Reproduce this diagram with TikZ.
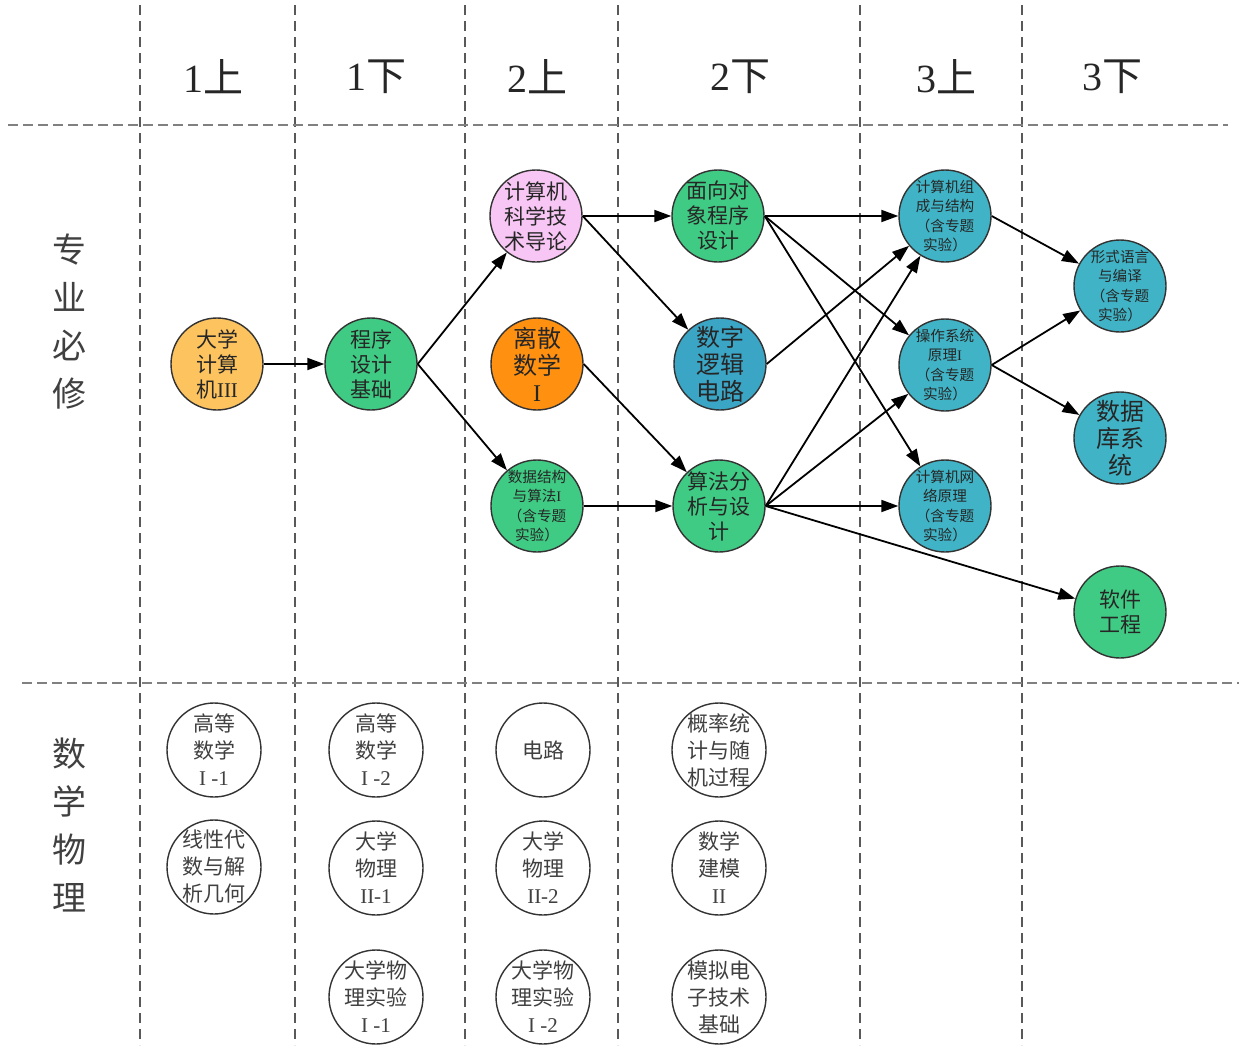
\documentclass[tikz,border=0pt]{standalone}
\usepackage{fontspec}
\setmainfont{Liberation Serif}
\newfontfamily\cjk{Noto Sans CJK SC}
\usetikzlibrary{arrows.meta}
\definecolor{cyel}{HTML}{FCC35E}
\definecolor{cgreen}{HTML}{3FCB83}
\definecolor{cpink}{HTML}{F8C6F4}
\definecolor{corange}{HTML}{FF9010}
\definecolor{cteal}{HTML}{3BA5C5}
\definecolor{cteal2}{HTML}{40B4C6}
\newcommand{\hdr}[2]{#1{\cjk #2}}
\newcommand{\rmn}[1]{{\rmfamily #1}}
\begin{document}
\begin{tikzpicture}[x=0.5pt,y=-0.5pt,
  course/.style={circle,draw=black!80,line width=0.7pt,minimum size=46pt,inner sep=-6pt,align=center,
    font=\cjk\fontsize{10.5}{12.5}\selectfont,text=black!85},
  smalltxt/.style={font=\cjk\fontsize{7.3}{9.8}\selectfont},
  bigtxt/.style={font=\cjk\fontsize{12}{13.5}\selectfont},
  mathc/.style={course,fill=white,minimum size=47pt,text=black!75,font=\cjk\fontsize{10.5}{13.5}\selectfont},
  arr/.style={-{Triangle[length=8.5pt,width=6pt]},line width=0.9pt,draw=black},
  vline/.style={dash pattern=on 5pt off 3pt,draw=black!65,line width=0.7pt},
  hline/.style={dash pattern=on 5pt off 2.5pt,draw=gray,line width=0.8pt},
  hdrtxt/.style={font=\fontsize{20}{20}\selectfont,text=black!85},
  side/.style={align=center,font=\cjk\fontsize{17}{24}\selectfont,text=black!75}]
\useasboundingbox (0,0) rectangle (1239,1050);
% grid
\foreach \x in {140,295,465,618,860,1022}
  \draw[vline] (\x,5) -- (\x,1045);
\draw[hline] (8,125) -- (1228,125);
\draw[hline] (22,683) -- (1239,683);
% headers
\node[hdrtxt] (h1) at (213,77) {\hdr{1}{上}};
\node[hdrtxt] (h2) at (376,77) {\hdr{1}{下}};
\node[hdrtxt] (h3) at (537,77) {\hdr{2}{上}};
\node[hdrtxt] (h4) at (740,77) {\hdr{2}{下}};
\node[hdrtxt] (h5) at (946,77) {\hdr{3}{上}};
\node[hdrtxt] (h6) at (1112,77) {\hdr{3}{下}};
% side labels
\node[side] (s1) at (70,322) {专\\业\\必\\修};
\node[side] (s2) at (70,825) {数\\学\\物\\理};
% major courses
\node[course,fill=cyel] (dj) at (217,364) {大学\\计算\\机\rmn{III}};
\node[course,fill=cgreen] (cx) at (371,364) {程序\\设计\\基础};
\node[course,fill=cpink] (intro) at (536,216) {计算机\\科学技\\术导论};
\node[course,fill=corange,bigtxt] (disc) at (537,364) {离散\\数学\\\rmn{I}};
\node[course,fill=cgreen,smalltxt] (ds) at (537,506) {数据结构\\与算法\rmn{I}\\（含专题\\实验）};
\node[course,fill=cgreen] (oop) at (718,216) {面向对\\象程序\\设计};
\node[course,fill=cteal,bigtxt] (logic) at (720,364) {数字\\逻辑\\电路};
\node[course,fill=cgreen] (algo) at (719,506) {算法分\\析与设\\计};
\node[course,fill=cteal2,smalltxt] (org) at (945,216) {计算机组\\成与结构\\（含专题\\实验）};
\node[course,fill=cteal2,smalltxt] (os) at (945,365) {操作系统\\原理\rmn{I}\\（含专题\\实验）};
\node[course,fill=cteal2,smalltxt] (net) at (945,506) {计算机网\\络原理\\（含专题\\实验）};
\node[course,fill=cteal2,smalltxt] (lang) at (1120,286) {形式语言\\与编译\\（含专题\\实验）};
\node[course,fill=cteal2,bigtxt] (db) at (1120,438) {数据\\库系\\统};
\node[course,fill=cgreen] (se) at (1120,612) {软件\\工程};
% math / physics
\node[mathc] (m1) at (214,750) {高等\\数学\\\rmn{I -1}};
\node[mathc] (m2) at (214,867) {线性代\\数与解\\析几何};
\node[mathc] (m3) at (376,750) {高等\\数学\\\rmn{I -2}};
\node[mathc] (m4) at (376,868) {大学\\物理\\\rmn{II-1}};
\node[mathc] (m5) at (376,997) {大学物\\理实验\\\rmn{I -1}};
\node[mathc] (m6) at (543,750) {电路};
\node[mathc] (m7) at (543,868) {大学\\物理\\\rmn{II-2}};
\node[mathc] (m8) at (543,997) {大学物\\理实验\\\rmn{I -2}};
\node[mathc] (m9) at (719,750) {概率统\\计与随\\机过程};
\node[mathc] (m10) at (719,868) {数学\\建模\\\rmn{II}};
\node[mathc] (m11) at (719,997) {模拟电\\子技术\\基础};
% edges
\draw[arr] (dj) -- (cx);
\draw[arr] (cx.east) -- (intro);
\draw[arr] (cx.east) -- (ds);
\draw[arr] (intro.east) -- (oop);
\draw[arr] (intro.east) -- (logic);
\draw[arr] (disc.east) -- (algo);
\draw[arr] (ds) -- (algo);
\draw[arr] (oop.east) -- (org);
\draw[arr] (oop.east) -- (os);
\draw[arr] (oop.east) -- (net);
\draw[arr] (logic.east) -- (org);
\draw[arr] (algo.east) -- (org);
\draw[arr] (algo.east) -- (os);
\draw[arr] (algo.east) -- (net);
\draw[arr] (algo.east) -- (se);
\draw[arr] (org.east) -- (lang);
\draw[arr] (os.east) -- (lang);
\draw[arr] (os.east) -- (db);
\end{tikzpicture}
\end{document}
